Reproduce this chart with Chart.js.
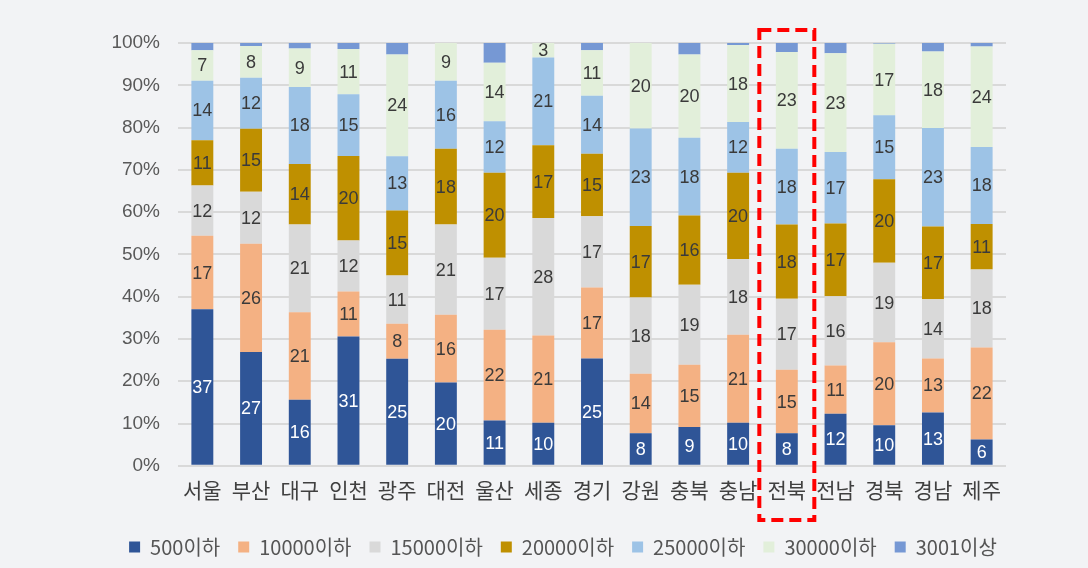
<!DOCTYPE html>
<html>
<head>
<meta charset="utf-8">
<script src="https://cdn.jsdelivr.net/npm/chart.js@4"></script>
<style>
  html, body { margin: 0; padding: 0; background: #f2f3f5; }
  #wrap { width: 1088px; height: 568px; }
</style>
</head>
<body>
<div id="wrap"><canvas id="stackChart"></canvas></div>
<script>
const regions = ['서울', '부산', '대구', '인천', '광주', '대전', '울산', '세종', '경기', '강원', '충북', '충남', '전북', '전남', '경북', '경남', '제주'];
const seriesNames = ['500이하', '10000이하', '15000이하', '20000이하', '25000이하', '30000이하', '3001이상'];
const seriesColors = ['#2f5597', '#f4b183', '#d9d9d9', '#bf9000', '#9dc3e6', '#e2efda', '#7698d4'];

const under500   = [37.0, 26.9, 15.6, 30.6, 25.3, 19.7, 10.7, 10.2, 25.4, 7.7, 9.2, 10.2, 7.7, 12.3, 9.6, 12.6, 6.2];
const under10000 = [17.4, 25.6, 20.7, 10.6, 8.3, 16.0, 21.5, 20.6, 16.8, 14.1, 14.7, 20.8, 15.0, 11.4, 19.6, 12.8, 21.8];
const under15000 = [11.9, 12.3, 20.8, 12.1, 11.4, 21.4, 17.0, 27.8, 16.8, 18.0, 18.9, 17.9, 16.8, 16.4, 18.8, 14.0, 18.4];
const under20000 = [10.7, 14.9, 14.3, 20.0, 15.4, 17.9, 20.1, 17.2, 14.8, 16.9, 16.4, 20.4, 17.6, 17.2, 19.8, 17.2, 10.8];
const under25000 = [14.1, 12.1, 18.2, 14.6, 12.8, 16.1, 12.2, 20.8, 13.7, 23.1, 18.4, 12.0, 17.9, 16.9, 15.1, 23.3, 18.2];
const under30000 = [7.2, 7.5, 9.1, 10.7, 24.1, 8.9, 13.8, 3.4, 10.8, 20.2, 19.7, 18.2, 22.9, 23.4, 16.9, 18.1, 23.8];
const over3001   = [1.7, 0.7, 1.3, 1.4, 2.7, 0.0, 4.7, 0.0, 1.7, 0.0, 2.7, 0.5, 2.1, 2.4, 0.2, 2.0, 0.8];

const seriesValues = [under500, under10000, under15000, under20000, under25000, under30000, over3001];
const highlightIndex = 12; // 전북

const baseFont = "'Liberation Sans', 'Noto Sans CJK KR', sans-serif";
const koFont = "'Noto Sans CJK KR', sans-serif";

// number labels in the middle of each segment
const segmentLabels = {
    id: 'segmentLabels',
    afterDatasetsDraw(chart) {
        const ctx = chart.ctx;
        ctx.save();
        ctx.font = '18px ' + baseFont;
        ctx.textAlign = 'center';
        ctx.textBaseline = 'middle';
        chart.data.datasets.forEach((ds, di) => {
            if (di === 6) return;
            const meta = chart.getDatasetMeta(di);
            meta.data.forEach((bar, i) => {
                const v = ds.data[i];
                if (!v) return;
                ctx.fillStyle = di === 0 ? '#ffffff' : '#3a3a3a';
                ctx.fillText(Math.round(v), bar.x, (bar.y + bar.base) / 2 + 1);
            });
        });
        ctx.restore();
    }
};

// red dashed box around the highlighted region
const highlightBox = {
    id: 'highlightBox',
    afterDraw(chart) {
        const ctx = chart.ctx;
        const x = chart.scales.x.getPixelForValue(highlightIndex);
        ctx.save();
        ctx.strokeStyle = '#ff0000';
        ctx.lineWidth = 4;
        ctx.setLineDash([12, 6]);
        ctx.strokeRect(x - 27.5, 30, 55, 490);
        ctx.restore();
    }
};

// legend in the picture sits right of the canvas centre and a bit lower
const legendShift = {
    id: 'legendShift',
    afterLayout(chart) {
        const lg = chart.legend;
        lg.left += 60;
        lg.right += 60;
        lg.top += 12;
        lg.bottom += 12;
    }
};

new Chart(document.getElementById('stackChart').getContext('2d'), {
    type: 'bar',
    data: {
        labels: regions,
        datasets: seriesNames.map((name, k) => ({
            label: name,
            data: seriesValues[k],
            backgroundColor: seriesColors[k],
            borderWidth: 0,
            barPercentage: 0.45,
            categoryPercentage: 1.0
        }))
    },
    options: {
        responsive: true,
        maintainAspectRatio: false,
        animation: false,
        layout: {
            padding: { top: 43, right: 82, left: 0, bottom: 13 }
        },
        plugins: {
            legend: {
                position: 'bottom',
                labels: {
                    boxWidth: 11,
                    boxHeight: 11,
                    padding: 18,
                    color: '#555555',
                    font: { size: 20, family: koFont }
                }
            },
            tooltip: { enabled: false }
        },
        scales: {
            x: {
                stacked: true,
                grid: { display: false },
                border: { display: false },
                ticks: {
                    color: '#404040',
                    padding: 4,
                    font: { size: 21, family: koFont }
                }
            },
            y: {
                stacked: true,
                min: 0,
                max: 100,
                afterFit: function(scale) { scale.width = 178; },
                grid: { color: '#d9d9d9', lineWidth: 2, drawTicks: false },
                border: { display: false },
                ticks: {
                    stepSize: 10,
                    padding: 18,
                    color: '#595959',
                    font: { size: 19, family: baseFont },
                    callback: v => v + '%'
                }
            }
        }
    },
    plugins: [segmentLabels, highlightBox, legendShift]
});
</script>
</body>
</html>
